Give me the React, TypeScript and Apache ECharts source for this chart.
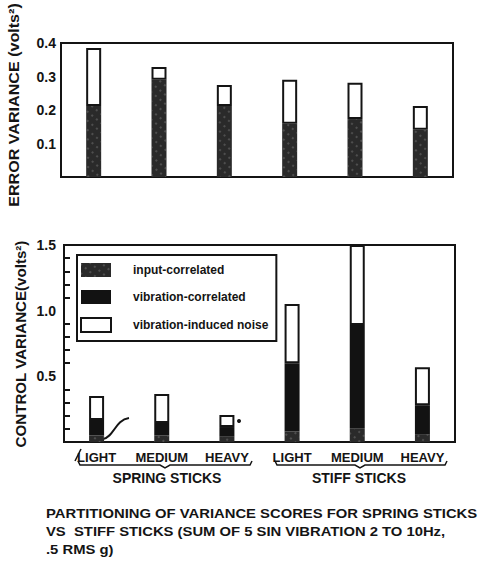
import React, { useEffect, useRef } from "react";
import * as echarts from "echarts";

// Categories (weights) for spring sticks then stiff sticks
const categories = ["LIGHT", "MEDIUM", "HEAVY", "LIGHT", "MEDIUM", "HEAVY"];
const groupLabels = ["SPRING STICKS", "STIFF STICKS"];

// Error variance (volts^2)
const errorInput = [0.212, 0.29, 0.212, 0.159, 0.173, 0.141];
const errorNoise = [0.173, 0.038, 0.063, 0.131, 0.108, 0.071];

// Control variance (volts^2)
const controlInput = [0.05, 0.05, 0.04, 0.08, 0.1, 0.06];
const controlVibration = [0.118, 0.095, 0.074, 0.52, 0.79, 0.22];
const controlNoise = [0.182, 0.221, 0.092, 0.45, 0.61, 0.29];

const errorTicks = [0.1, 0.2, 0.3, 0.4];
const controlTicks = [0.5, 1.0, 1.5];

const seriesNames = ["input-correlated", "vibration-correlated", "vibration-induced noise"];

const caption =
  "PARTITIONING OF VARIANCE SCORES FOR SPRING STICKS\nVS  STIFF STICKS (SUM OF 5 SIN VIBRATION 2 TO 10Hz,\n.5 RMS g)";

const INK = "#141414";
const FONT = "'Liberation Sans', Arial, sans-serif";

export default function App() {
  const ref = useRef<HTMLDivElement>(null);
  useEffect(() => {
    document.body.style.margin = "0";
    const chart = echarts.init(ref.current!, null, { renderer: "svg" });
    const inputStyle = {
      color: "#2a2a2a",
      decal: {
        symbol: "rect",
        symbolSize: 0.7,
        color: "rgba(190,190,190,0.45)",
        dashArrayX: [2, 4],
        dashArrayY: [2, 5],
        rotation: 0.7,
      },
    };
    const vibStyle = { color: "#121212" };
    const noiseStyle = { color: "#ffffff", borderColor: INK, borderWidth: 2 };
    const barWidth = 15;
    const yLabel = (ticks: number[]) => (v: number) =>
      ticks.some((t) => Math.abs(t - v) < 1e-6) ? v.toFixed(1) : "";

    chart.setOption({
      animation: false,
      backgroundColor: "#ffffff",
      textStyle: { fontFamily: FONT, color: INK },
      grid: [
        { left: 61, top: 43, width: 392, height: 134, show: true, borderColor: INK, borderWidth: 2 },
        { left: 64, top: 245, width: 391, height: 197, show: true, borderColor: INK, borderWidth: 2 },
      ],
      legend: {
        data: seriesNames,
        orient: "vertical",
        left: 77,
        top: 255,
        itemWidth: 30,
        itemHeight: 14,
        itemGap: 13,
        padding: [8, 8, 8, 3],
        borderColor: INK,
        borderWidth: 2,
        icon: "rect",
        selectedMode: false,
        textStyle: { fontSize: 12, fontWeight: "bold", color: INK, padding: [0, 0, 0, 17], fontFamily: FONT },
      },
      xAxis: [
        {
          gridIndex: 0,
          type: "category",
          data: categories,
          axisLine: { lineStyle: { color: INK, width: 2 } },
          axisTick: { show: false },
          axisLabel: { show: false },
        },
        {
          gridIndex: 1,
          type: "category",
          data: categories,
          axisLine: { lineStyle: { color: INK, width: 2 } },
          axisTick: { show: false },
          axisLabel: { interval: 0, hideOverlap: false, margin: 9, fontSize: 13, fontWeight: "bold", color: INK, fontFamily: FONT },
        },
      ],
      yAxis: [
        {
          gridIndex: 0,
          type: "value",
          min: 0,
          max: 0.4,
          interval: 0.1,
          splitLine: { show: false },
          axisLine: { show: true, lineStyle: { color: INK, width: 2 } },
          axisTick: { inside: true, length: 6, lineStyle: { color: INK, width: 2 } },
          axisLabel: { formatter: yLabel(errorTicks), margin: 5, fontSize: 14, fontWeight: "bold", color: INK, fontFamily: FONT },
        },
        {
          gridIndex: 1,
          type: "value",
          min: 0,
          max: 1.5,
          interval: 0.5,
          splitLine: { show: false },
          axisLine: { show: true, lineStyle: { color: INK, width: 2 } },
          axisTick: { inside: true, length: 6, lineStyle: { color: INK, width: 2 } },
          minorTick: { show: true, splitNumber: 5, length: 6, lineStyle: { color: INK, width: 2 } },
          minorSplitLine: { show: false },
          axisLabel: { formatter: yLabel(controlTicks), margin: 8, fontSize: 14, fontWeight: "bold", color: INK, fontFamily: FONT },
        },
      ],
      series: [
        { name: seriesNames[0], type: "bar", xAxisIndex: 0, yAxisIndex: 0, stack: "err", barWidth, data: errorInput, itemStyle: inputStyle },
        { name: seriesNames[2], type: "bar", xAxisIndex: 0, yAxisIndex: 0, stack: "err", barWidth, data: errorNoise, itemStyle: noiseStyle },
        { name: seriesNames[0], type: "bar", xAxisIndex: 1, yAxisIndex: 1, stack: "ctl", barWidth, data: controlInput, itemStyle: inputStyle },
        { name: seriesNames[1], type: "bar", xAxisIndex: 1, yAxisIndex: 1, stack: "ctl", barWidth, data: controlVibration, itemStyle: vibStyle },
        { name: seriesNames[2], type: "bar", xAxisIndex: 1, yAxisIndex: 1, stack: "ctl", barWidth, data: controlNoise, itemStyle: noiseStyle },
      ],
      graphic: [
        {
          type: "text",
          x: 14,
          y: 105,
          rotation: Math.PI / 2,
          scaleX: 1.15,
          style: { text: "ERROR VARIANCE (volts²)", fontSize: 14, fontWeight: "bold", fill: INK, fontFamily: FONT, textAlign: "center", textVerticalAlign: "middle" },
        },
        {
          type: "text",
          x: 21,
          y: 344,
          rotation: Math.PI / 2,
          scaleX: 1.08,
          style: { text: "CONTROL VARIANCE(volts²)", fontSize: 14, fontWeight: "bold", fill: INK, fontFamily: FONT, textAlign: "center", textVerticalAlign: "middle" },
        },
        {
          type: "polyline",
          shape: { points: [[78, 461], [80, 465], [160, 465], [165, 468], [170, 465], [250, 465], [252, 461]] },
          style: { stroke: INK, lineWidth: 1.5, fill: "none" },
        },
        {
          type: "polyline",
          shape: { points: [[275, 461], [277, 465], [355, 465], [360, 468], [365, 465], [445, 465], [447, 461]] },
          style: { stroke: INK, lineWidth: 1.5, fill: "none" },
        },
        { type: "line", shape: { x1: 75, y1: 461, x2: 81, y2: 449 }, style: { stroke: INK, lineWidth: 1.5 } },
        {
          type: "bezierCurve",
          shape: { x1: 103, y1: 439, cpx1: 114, cpy1: 437, cpx2: 115, cpy2: 420, x2: 129, y2: 418 },
          style: { stroke: INK, lineWidth: 2, fill: "none" },
        },
        { type: "circle", shape: { cx: 239, cy: 421, r: 2 }, style: { fill: INK } },
        {
          type: "text",
          x: 167,
          y: 478,
          style: { text: groupLabels[0], fontSize: 14, fontWeight: "bold", fill: INK, fontFamily: FONT, textAlign: "center", textVerticalAlign: "middle" },
        },
        {
          type: "text",
          x: 359,
          y: 478,
          style: { text: groupLabels[1], fontSize: 14, fontWeight: "bold", fill: INK, fontFamily: FONT, textAlign: "center", textVerticalAlign: "middle" },
        },
        {
          type: "text",
          x: 46,
          y: 504,
          scaleX: 1.14,
          style: { text: caption, fontSize: 13, lineHeight: 18, fontWeight: "bold", fill: INK, fontFamily: FONT, textAlign: "left", textVerticalAlign: "top" },
        },
      ],
    });
    return () => chart.dispose();
  }, []);
  return <div ref={ref} style={{ width: 484, height: 564 }} />;
}
